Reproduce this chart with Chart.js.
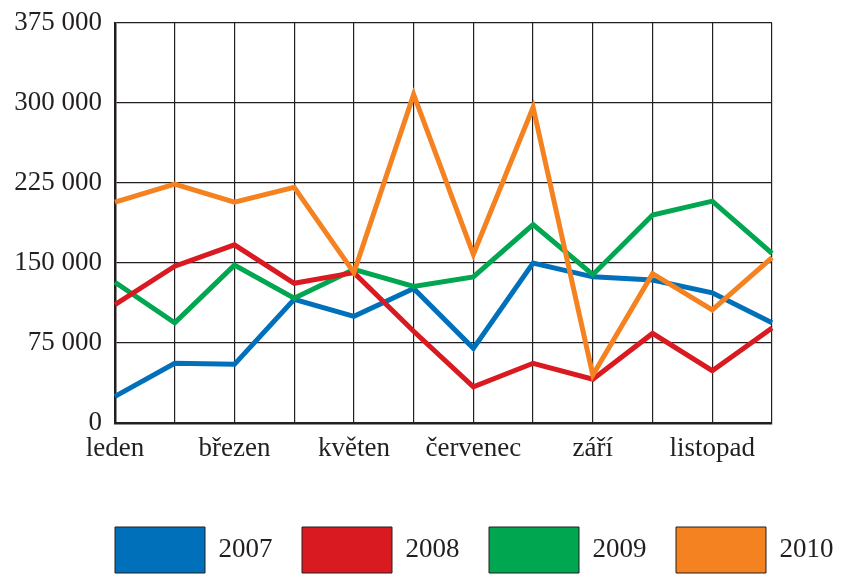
<!DOCTYPE html>
<html>
<head>
<meta charset="utf-8">
<script src="https://cdn.jsdelivr.net/npm/chart.js@4"></script>
<style>
  html, body { margin: 0; padding: 0; background: #fff; }
  #wrap { width: 842px; height: 579px; }
</style>
</head>
<body>
<div id="wrap"><canvas id="c" width="842" height="579"></canvas></div>
<script>
const months = ['leden', 'únor', 'březen', 'duben', 'květen', 'červen', 'červenec', 'srpen', 'září', 'říjen', 'listopad', 'prosinec'];
const years = ['2007', '2008', '2009', '2010'];
const s2007 = [25000, 56000, 55000, 116000, 100000, 126000, 70000, 150000, 137000, 134000, 122000, 94000];
const s2008 = [111000, 147000, 167000, 131000, 141000, 86000, 34000, 56000, 41000, 84000, 49000, 89000];
const s2009 = [132000, 94000, 148000, 117000, 144000, 128000, 137000, 186000, 139000, 195000, 208000, 159000];
const s2010 = [207000, 224000, 207000, 221000, 141000, 308000, 158000, 296000, 45000, 140000, 106000, 155000];
const colors = ['#0070ba', '#da1a21', '#00a650', '#f58220'];
const yMin = 0, yMax = 375000, yStep = 75000;

const ink = '#231f20';
const serif = 'Liberation Serif, "Times New Roman", serif';

const shiftLegend = {
  id: 'shiftLegend',
  afterLayout(chart) {
    const lg = chart.legend;
    if (!lg || !lg.lineWidths) return;
    const pad = lg.options.labels.padding;
    const start = (lg.left + pad + lg.right - lg.lineWidths[0]) / 2;
    const dx = chart.chartArea.left - start;
    lg.left += dx;
    lg.right += dx;
  }
};

const seriesList = [s2007, s2008, s2009, s2010];
const drawOrder = [3, 1, 2, 0];

new Chart(document.getElementById('c'), {
  type: 'line',
  data: {
    labels: months,
    datasets: years.map((y, i) => ({
      label: y,
      data: seriesList[i],
      borderColor: colors[i],
      backgroundColor: colors[i],
      borderWidth: 5,
      pointRadius: 0,
      pointHoverRadius: 0,
      tension: 0,
      fill: false,
      order: drawOrder[i]
    }))
  },
  options: {
    responsive: false,
    animation: false,
    devicePixelRatio: 1,
    layout: { padding: { top: 23, right: 0, bottom: -4, left: 0 } },
    plugins: {
      tooltip: { enabled: false },
      legend: {
        position: 'bottom',
        labels: {
          boxWidth: 90,
          boxHeight: 46,
          padding: 29.5,
          color: ink,
          font: { family: serif, size: 27 },
          sort: (a, b) => a.datasetIndex - b.datasetIndex,
          generateLabels(chart) {
            const items = Chart.defaults.plugins.legend.labels.generateLabels(chart);
            items.forEach(it => { it.strokeStyle = ink; it.lineWidth = 1; it.fillStyle = colors[it.datasetIndex]; });
            return items;
          }
        }
      }
    },
    scales: {
      x: {
        offset: false,
        grid: { color: ink, lineWidth: 1.2, drawTicks: false },
        border: { color: ink, width: 2.5 },
        ticks: {
          autoSkip: false,
          maxRotation: 0,
          padding: 10,
          color: ink,
          font: { family: serif, size: 27 },
          callback: function (v, i) { return i % 2 === 0 ? months[i] : ''; }
        },
        afterFit(scale) { scale.height = 74.5; scale.paddingRight = 0; }
      },
      y: {
        min: yMin,
        max: yMax,
        grid: { color: ink, lineWidth: 1.2, drawTicks: false },
        border: { color: ink, width: 2.5 },
        ticks: {
          stepSize: yStep,
          padding: 13,
          color: ink,
          font: { family: serif, size: 27 },
          callback: function (v) {
            return String(v).replace(/\B(?=(\d{3})+(?!\d))/g, ' ');
          }
        },
        afterFit(scale) { scale.width = 115; scale.paddingTop = 0; scale.paddingBottom = 0; }
      },
      spacer: {
        type: 'linear',
        position: 'right',
        display: true,
        grid: { display: false, drawTicks: false },
        border: { display: false },
        ticks: { display: false },
        afterFit(scale) { scale.width = 70; scale.paddingTop = 0; scale.paddingBottom = 0; }
      }
    }
  },
  plugins: [shiftLegend]
});
</script>
</body>
</html>
